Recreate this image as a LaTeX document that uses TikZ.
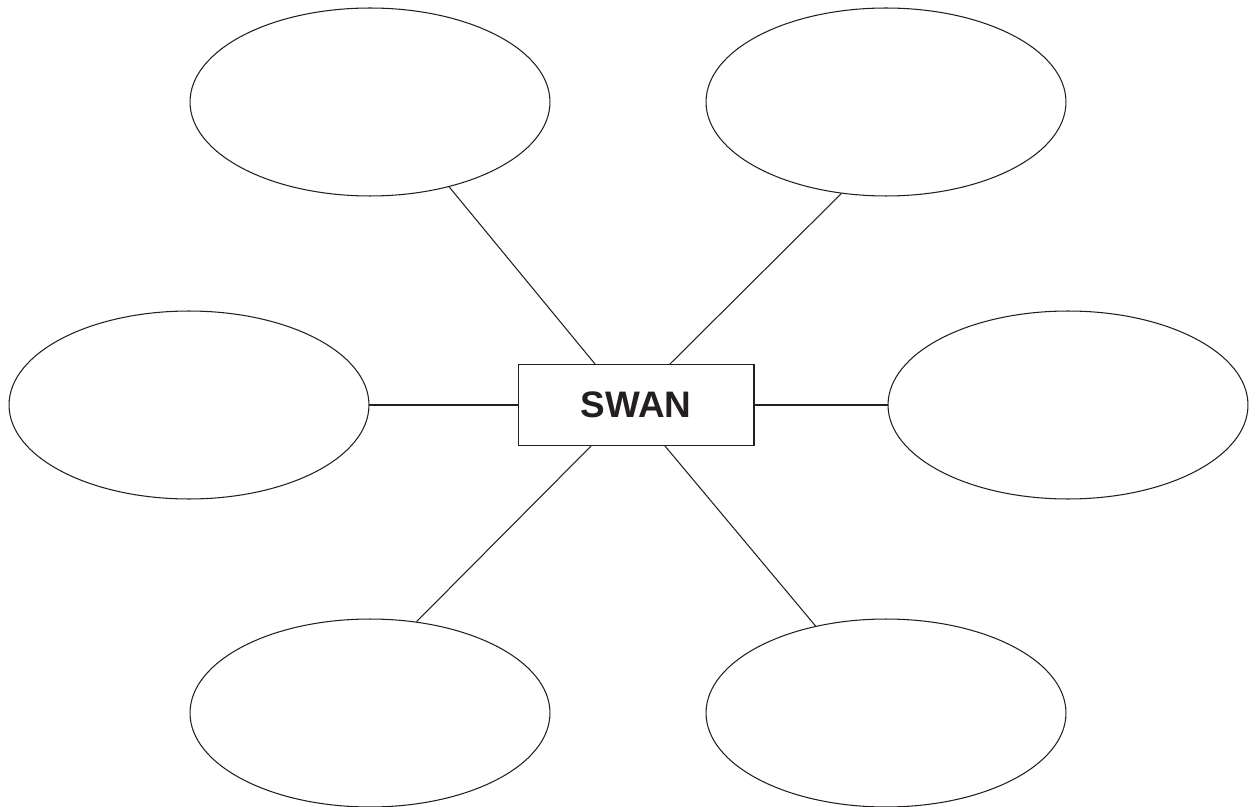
\documentclass[tikz,border=0pt]{standalone}
\usepackage{fontspec}
\setmainfont{Liberation Sans}
\usetikzlibrary{shapes.geometric,calc}
\definecolor{ink}{HTML}{231F20}
\begin{document}
\begin{tikzpicture}[x=0.02cm,y=-0.02cm,
    bubble/.style={draw=ink,line width=0.6pt,ellipse,inner sep=0pt,
      minimum width=7.2cm,minimum height=3.76cm},
    titlebox/.style={draw=ink,line width=0.6pt,rectangle,inner sep=0pt,
      minimum width=4.72cm,minimum height=1.62cm,text=ink,
      font=\fontsize{21}{24}\selectfont\bfseries},
    spoke/.style={draw=ink,line width=0.6pt}]
    \useasboundingbox (0,0) rectangle (1257,807);
    \node[titlebox] (swan) at (636,405) {SWAN};
    \node[bubble] (tl) at (370,102) {};
    \node[bubble] (tr) at (886,102) {};
    \node[bubble] (ml) at (189,405) {};
    \node[bubble] (mr) at (1068,405) {};
    \node[bubble] (bl) at (370,713) {};
    \node[bubble] (br) at (886,713) {};
    \draw[spoke] ($(swan.north)+(-41,0)$) -- (tl.-47);
    \draw[spoke] ($(swan.north)+(34,0)$) -- (tr.-116.8);
    \draw[spoke] (swan.west) -- (ml.east);
    \draw[spoke] (swan.east) -- (mr.west);
    \draw[spoke] ($(swan.south)+(-45,0)$) -- (bl.63.4);
    \draw[spoke] ($(swan.south)+(29,0)$) -- (br.129.9);
\end{tikzpicture}
\end{document}
